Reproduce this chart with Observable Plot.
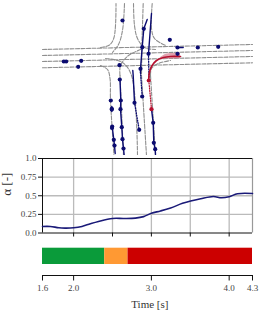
<!DOCTYPE html>
<html><head><meta charset="utf-8">
<script src="https://cdn.jsdelivr.net/npm/d3@7"></script>
<script src="https://cdn.jsdelivr.net/npm/@observablehq/plot@0.6"></script>
<style>
html,body{margin:0;padding:0;background:#fff;width:265px;height:312px;overflow:hidden}
svg{display:block}
</style></head><body>
<script>
// Alpha series
const times  = [1.6,1.7,1.81,1.89,2.0,2.107,2.215,2.32,2.5,2.645,2.795,2.9,3.0,3.118,3.247,3.4,3.505,3.634,3.797,3.9,4.0,4.107,4.3];
const alphas = [.088,.088,.07,.066,.07,.088,.124,.155,.195,.195,.2,.22,.265,.296,.336,.398,.43,.46,.49,.473,.487,.527,.53];
// Phases
const phaseStart = [1.6,2.4,2.7];
const phaseEnd   = [2.4,2.7,4.3];
const phaseColor = ["#0a9b3a","#ff9933","#cc0000"];
// Map (in map units)
const roadsStraight = [
 [[42,49],[252,44]],[[42,55],[252,50]],[[42,61],[252,56]],[[42,67.3],[252,62.3]],
 [[142.7,3],[141.5,40],[141,75],[146,155]]
];
const roadsCurved = [
 [[100,47],[109,44.5],[113.5,37],[115.5,3]],
 [[124,3],[122,30],[118,44],[112,52]],
 [[133,3],[134,25],[137,38],[144,47],[155,49]],
 [[151.7,3],[151,28],[154,38],[165,45]],
 [[100,65],[107,69],[109.5,78],[110,100],[113.5,155]],
 [[119.5,75],[120,65],[128,55],[143,48]],
 [[105,58],[122,62],[131,75],[137,155]],
 [[119.5,75],[123,155]],
 [[150,75],[151,68],[158,63],[170,60]],
 [[150,75],[155,155]]
];
const bandX  = [158,165,172,180];
const bandY1 = [59,54,53,52.7];
const bandY2 = [60,58.5,58.5,58.3];
const redPath = [[180,56],[170,56],[163,57],[156,60],[151,66],[148.7,73],[148.3,80]];
const redDotted = [[148.3,80],[151,108.7]];
const solidTracks = [
 [[146.7,19],[143.3,28.3],[141.7,46.7],[140,68.3],[140,72]],
 [[151,13],[148,53.3]],
 [[177,47],[182.7,47]],
 [[132.3,70],[132.7,75],[134,102.3]],
 [[120.3,100],[120,108.7],[121.3,126.7],[122,138.7],[123,148],[123.7,155]],
 [[119.5,79],[120.3,100]],
 [[111.3,106],[111.3,111]],
 [[111.7,126],[113.3,139.3],[114,145],[114.7,153]],
 [[151,108.7],[152.7,122.3],[153.3,142.3],[154.7,148.7],[155,154]]
];
const dottedTracks = [
 [[140,72],[141.7,96]],
 [[148,53.3],[148.5,78]],
 [[134,102.3],[138.7,129.3]]
];
const navyDots = [[122,20],[143.3,28.3],[141.7,46.7],[140,68.3],[148,53.3],[141.7,96],
 [169.3,39.3],[177,47],[197.3,47],[217.7,46.3],[177,53.3],
 [63.3,61],[65.7,61],[80.7,60.3],[77.7,66.3],[119,64.7],[119.3,79],
 [134,102.3],[138.7,129.3],[120.3,100],[120,108.7],[121.3,126.7],[122,138.7],[123,148],
 [110.3,100],[111.3,108.3],[111.3,109],[111.7,126],[111.5,127.5],[113.3,139.3],[114,145],
 [152.7,122.3],[153.3,142.3],[154.7,148.7]];
const redDots = [[148.3,80],[151,108.7]];

const navy="#0b0b70", red="#b5102f", road="#8f8f8f";
const font="'Liberation Serif',serif";

const mapMarks=[
 ...roadsStraight.map(r=>Plot.line(r,{stroke:road,strokeWidth:1.1,strokeDasharray:"4,1.5"})),
 ...roadsCurved.map(r=>Plot.line(r,{curve:"catmull-rom",stroke:road,strokeWidth:1.1,strokeDasharray:"4,1.5"})),
 Plot.areaY(bandX,{x:d=>d,y1:(d,i)=>bandY1[i],y2:(d,i)=>bandY2[i],fill:"#d98a9a",fillOpacity:.8,curve:"catmull-rom"}),
 ...dottedTracks.map(r=>Plot.line(r,{stroke:navy,strokeWidth:1.3,strokeDasharray:"1,1.5"})),
 ...solidTracks.map(r=>Plot.line(r,{stroke:navy,strokeWidth:1.4})),
 Plot.line(redPath,{curve:"catmull-rom",stroke:red,strokeWidth:1.7}),
 Plot.line(redDotted,{stroke:red,strokeWidth:1.2,strokeDasharray:"1,1.5"}),
 Plot.dot(navyDots,{r:2.1,fill:navy,stroke:null}),
 Plot.dot(redDots,{r:2.1,fill:red,stroke:null})
];
document.body.append(Plot.plot({width:265,height:155,margin:0,
 x:{domain:[0,265],range:[0,265],axis:null},
 y:{domain:[0,155],range:[0,155],axis:null},
 style:{background:"transparent"},marks:mapMarks}));

const alphaData=times.map((t,i)=>({t,a:alphas[i]}));
document.body.append(Plot.plot({width:265,height:90,marginTop:8,marginBottom:7.5,marginLeft:42,marginRight:13,
 x:{domain:[1.6,4.3],range:[42,252]},
 y:{domain:[0,1],range:[82.5,8]},
 style:{fontFamily:font,fontSize:"9px",background:"transparent",marginTop:"-5px"},
 marks:[
  Plot.gridX([2,2.5,3,3.5,4],{stroke:"#bbb",strokeOpacity:1,strokeWidth:1.3}),
  Plot.gridY([.25,.5,.75],{stroke:"#bbb",strokeOpacity:1,strokeWidth:1.3}),
  Plot.ruleX([4.3],{stroke:"#999",strokeWidth:1.2}),
  Plot.ruleX([1.6],{stroke:"#111",strokeWidth:1}),
  Plot.ruleY([0,1],{stroke:"#111",strokeWidth:1}),
  Plot.axisX([2,2.5,3,3.5,4],{tickFormat:()=>"",label:null,tickSize:4,stroke:"#111"}),
  Plot.axisY([0,.25,.5,.75,1],{tickFormat:d=>d===0?"0.0":d===1?"1.0":String(d),label:null,tickSize:4,tickPadding:2,stroke:"#111",fill:"#444"}),
  Plot.text(["α [-]"],{frameAnchor:"left",dx:-36,rotate:-90,fontSize:13,fill:"#333",fontFamily:font}),
  Plot.line(alphaData,{x:"t",y:"a",stroke:"#1a1a78",strokeWidth:1.6,curve:"catmull-rom"})
 ]}));

const phases=phaseStart.map((s,i)=>({s,e:phaseEnd[i],c:phaseColor[i]}));
document.body.append(Plot.plot({width:265,height:24,marginTop:7.7,marginBottom:0,marginLeft:42,marginRight:13,
 x:{domain:[1.6,4.3],range:[42,252],axis:null},
 y:{axis:null},
 style:{background:"transparent"},
 marks:[Plot.rectX(phases,{x1:"s",x2:"e",fill:"c"})]}));

document.body.append(Plot.plot({width:265,height:48,marginTop:10,marginBottom:37,marginLeft:42,marginRight:13,
 x:{domain:[1.6,4.3],range:[42,252]},
 y:{domain:[0,1],axis:null},
 style:{fontFamily:font,fontSize:"9px",background:"transparent"},
 marks:[
  Plot.ruleY([0],{stroke:"#111",strokeWidth:1}),
  Plot.axisX([1.6,2,3,4,4.3],{tickFormat:d=>d.toFixed(1),tickSize:5.5,tickPadding:4,stroke:"#111",fill:"#444",label:null}),
  Plot.text(["Time [s]"],{x:()=>2.98,frameAnchor:"bottom",dy:32,fontSize:11,fill:"#333",fontFamily:font,fontWeight:"normal"})
 ]}));
</script>
</body></html>
